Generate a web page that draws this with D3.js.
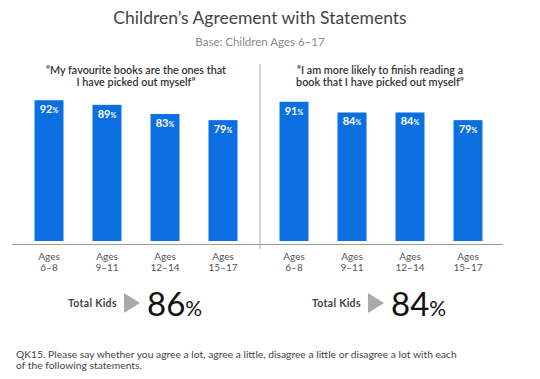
<!DOCTYPE html>
<html><head><meta charset="utf-8">
<script src="https://cdn.jsdelivr.net/npm/d3@7"></script>
<style>
body{margin:0;background:#fff;}
svg{display:block;font-family:Lato,"Open Sans",sans-serif;}
</style></head>
<body><svg id="c" width="540" height="379"></svg>
<script>
const categoriesTop = ["Ages","Ages","Ages","Ages"];
const categories = ["6–8","9–11","12–14","15–17"];
const seriesFavourite = [92, 89, 83, 79];
const seriesFinish = [91, 84, 84, 79];
const panelTitles = [
  ["\u201cMy favourite books are the ones that", "I have picked out myself\u201d"],
  ["\u201cI am more likely to finish reading a", "book that I have picked out myself\u201d"]
];
const totals = [86, 84];
const title = "Children\u2019s Agreement with Statements";
const subtitle = "Base: Children Ages 6\u201317";
const footnote = ["QK15. Please say whether you agree a lot, agree a little, disagree a little or disagree a lot with each",
                  "of the following statements."];

const svg = d3.select("#c");
const blue = "#0b6fdf";

svg.append("text").attr("x",260).attr("y",24).attr("text-anchor","middle")
  .attr("font-size",17.5).attr("fill","#444").text(title);
svg.append("text").attr("x",260).attr("y",46).attr("text-anchor","middle")
  .attr("font-size",11.5).attr("fill","#8a8a8a").text(subtitle);

const y = d3.scaleLinear().domain([0,100]).range([241,88]);

const panels = [
  {data: seriesFavourite, range:[20,252], cx:136, titles: panelTitles[0], total: totals[0], tk: 68},
  {data: seriesFinish, range:[265,497], cx:380, titles: panelTitles[1], total: totals[1], tk: 312}
];

panels.forEach(p => {
  const x = d3.scaleBand().domain(categories).range(p.range).paddingInner(0.5).paddingOuter(0.25);
  const g = svg.append("g");
  p.titles.forEach((t,i) => g.append("text").attr("x",p.cx).attr("y",74+i*11.5)
     .attr("text-anchor","middle").attr("font-size",10.8).attr("font-weight",600)
     .attr("fill","#333").text(t));
  g.selectAll("rect").data(p.data).join("rect")
    .attr("x",(d,i)=>x(categories[i])).attr("width",x.bandwidth())
    .attr("y",d=>y(d)).attr("height",d=>y(0)-y(d)).attr("fill",blue);
  const lbl = g.selectAll("text.v").data(p.data).join("text").attr("class","v")
    .attr("x",(d,i)=>x(categories[i])+x.bandwidth()/2).attr("y",d=>y(d)+13)
    .attr("text-anchor","middle").attr("fill","#fff").attr("font-weight",700);
  lbl.append("tspan").attr("font-size",11).text(d=>d);
  lbl.append("tspan").attr("font-size",7).text("%");
  const ax = g.append("g").attr("transform","translate(0,244)")
    .call(d3.axisBottom(x).tickSize(0).tickPadding(0).tickFormat(""));
  ax.select(".domain").remove();
  ax.selectAll(".tick").each(function(d,i){
    const t = d3.select(this).append("text").attr("fill","#555").attr("font-size",10)
      .attr("text-anchor","middle").attr("font-family","Lato,sans-serif");
    t.append("tspan").attr("x",0).attr("y",16).text(categoriesTop[i]);
    t.append("tspan").attr("x",0).attr("y",27).text(d);
  });
  // totals
  g.append("text").attr("x",p.tk).attr("y",307).attr("font-size",10.5).attr("font-weight",700)
    .attr("letter-spacing",0.3).attr("fill","#444").text("Total Kids");
  const tx = p.tk + 56;
  g.append("path").attr("d",`M${tx},293 L${tx+16},303 L${tx},313 Z`).attr("fill","#aaa");
  const big = g.append("text").attr("x",tx+23).attr("y",316).attr("fill","#111");
  big.append("tspan").attr("font-size",33).text(p.total);
  big.append("tspan").attr("font-size",21).text("%");
});

svg.append("line").attr("x1",12).attr("x2",503).attr("y1",244.5).attr("y2",244.5)
  .attr("stroke","#999").attr("stroke-width",1);
svg.append("line").attr("x1",260).attr("x2",260).attr("y1",64).attr("y2",249)
  .attr("stroke","#aaa").attr("stroke-width",1);

footnote.forEach((t,i)=>svg.append("text").attr("x",16).attr("y",358+i*11).attr("font-size",10.3)
  .attr("fill","#444").text(t));
</script></body></html>
